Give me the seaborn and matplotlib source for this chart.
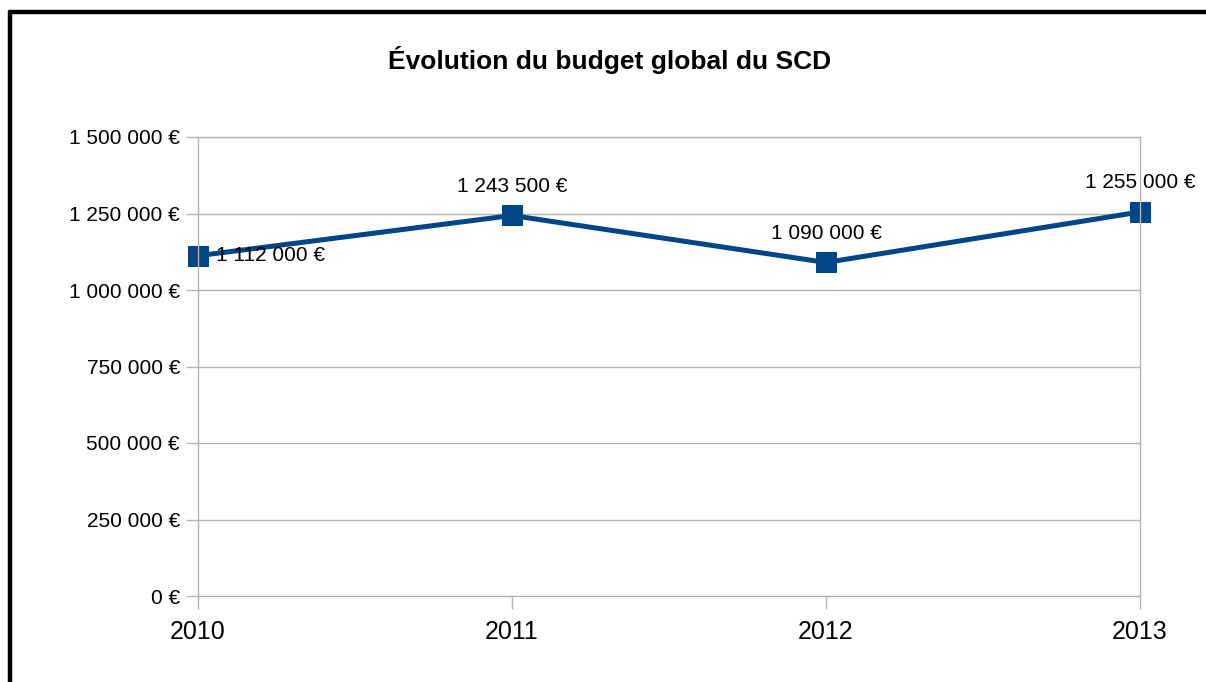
import matplotlib
matplotlib.use("Agg")
import matplotlib.pyplot as plt
import seaborn as sns
import pandas as pd
from matplotlib.lines import Line2D

# Data
years = ["2010", "2011", "2012", "2013"]
budget = [1112000, 1243500, 1090000, 1255000]
yticks = [0, 250000, 500000, 750000, 1000000, 1250000, 1500000]

def euro(v):
    return f"{v:,.0f} €".replace(",", " ")

df = pd.DataFrame({"year": years, "budget": budget})

sns.set_theme(style="white")
plt.rcParams["font.family"] = ["Liberation Sans", "DejaVu Sans"]
plt.rcParams["text.color"] = "black"

fig = plt.figure(figsize=(12.06, 6.82), dpi=100)
ax = fig.add_axes([198 / 1206, 1 - 596 / 682, 942 / 1206, 459 / 682])

blue = "#004586"
grid = "#b3b3b3"

sns.lineplot(data=df, x="year", y="budget", ax=ax, color=blue, linewidth=3.6,
             marker="s", markersize=14, markeredgecolor=blue, sort=False)
for ln in ax.lines:
    ln.set_clip_on(False)

ax.set_xlim(0, len(years) - 1)
ax.set_ylim(0, 1500000)
ax.set_yticks(yticks)
ax.set_yticklabels([euro(v) for v in yticks], fontsize=15)
ax.set_xticks(range(len(years)))
ax.set_xticklabels(years, fontsize=18)
ax.set_xlabel("")
ax.set_ylabel("")
ax.yaxis.grid(True, color=grid, linewidth=1)
ax.xaxis.grid(False)
for s in ax.spines.values():
    s.set_color(grid)
    s.set_linewidth(1)
ax.tick_params(axis="both", bottom=True, left=True, direction="out", length=9,
               width=1, color=grid, labelcolor="black")
ax.tick_params(axis="y", pad=4)
ax.tick_params(axis="x", pad=8)
ax.set_axisbelow(True)

# data labels
for i, v in enumerate(budget):
    if i == 0:
        ax.annotate(euro(v), (i, v), xytext=(13, 0), textcoords="offset points",
                    ha="left", va="center", fontsize=15, color="black")
    else:
        ax.annotate(euro(v), (i, v), xytext=(0, 21), textcoords="offset points",
                    ha="center", va="center", fontsize=15, color="black")

fig.text(610 / 1206, 1 - 60 / 682, "Évolution du budget global du SCD",
         ha="center", va="center", fontsize=19, fontweight="bold", color="black")

# black frame (top and left only visible)
fig.add_artist(Line2D([9.5 / 1206, 1], [1 - 12 / 682, 1 - 12 / 682],
                      color="black", linewidth=3.2, transform=fig.transFigure))
fig.add_artist(Line2D([9.5 / 1206, 9.5 / 1206], [0, 1 - 12 / 682],
                      color="black", linewidth=3.2, transform=fig.transFigure))

fig.savefig("out.png", dpi=100, facecolor="white")
